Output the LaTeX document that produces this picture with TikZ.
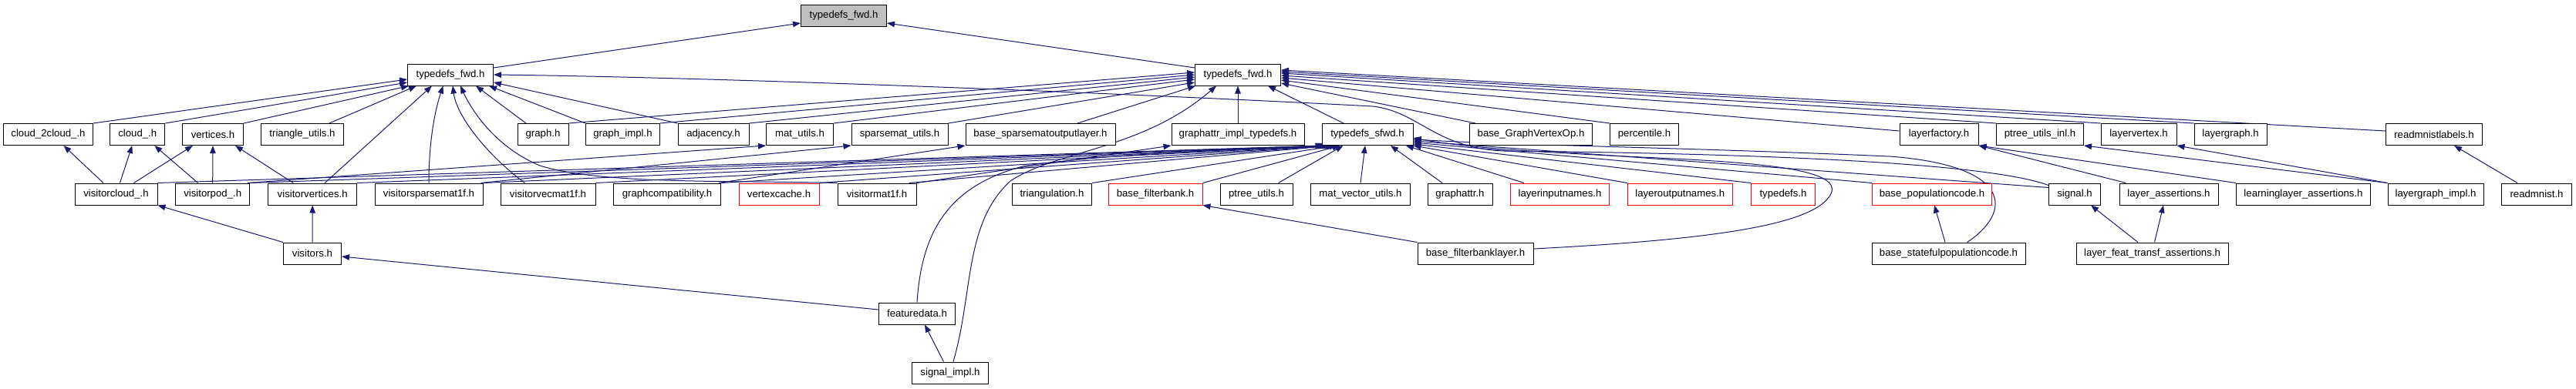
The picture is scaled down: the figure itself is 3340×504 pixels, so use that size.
\documentclass[tikz,border=0pt]{standalone}
\usepackage{fontspec}
\setmainfont{Liberation Sans}
\usetikzlibrary{arrows.meta,backgrounds}
\definecolor{navy}{RGB}{25,25,112}
\definecolor{topfill}{RGB}{191,191,191}
\definecolor{trunc}{RGB}{255,0,0}
\tikzset{
  box/.style={draw=black, line width=1pt, fill=white, minimum height=28pt, inner sep=0pt,
    font=\fontsize{13.2pt}{15pt}\selectfont},
  redbox/.style={box, draw=trunc},
  edge/.style={draw=navy, line width=1pt, -{Triangle[length=10pt,width=7.5pt]}}
}
\begin{document}
\begin{tikzpicture}[x=1pt,y=-1pt]
\useasboundingbox (0,0) rectangle (3340,504);
% row 0
\node[box,fill=topfill,minimum width=111pt] (top) at (1094,20) {typedefs\_fwd.h};
% row 1
\node[box,minimum width=111pt] (L) at (584,97) {typedefs\_fwd.h};
\node[box,minimum width=111pt] (R) at (1605,97) {typedefs\_fwd.h};
% row 2
\node[box,minimum width=116pt] (c2c) at (62.5,174.5) {cloud\_2cloud\_.h};
\node[box,minimum width=71pt] (cloud) at (178.3,174.5) {cloud\_.h};
\node[box,minimum width=79pt] (vert) at (276,174.5) {vertices.h};
\node[box,minimum width=107pt] (tri) at (392,174.5) {triangle\_utils.h};
\node[box,minimum width=66pt] (graph) at (704,174.5) {graph.h};
\node[box,minimum width=96pt] (gimpl) at (807.5,174.5) {graph\_impl.h};
\node[box,minimum width=92pt] (adj) at (925,174.5) {adjacency.h};
\node[box,minimum width=87pt] (matu) at (1037,174.5) {mat\_utils.h};
\node[box,minimum width=125pt] (spmu) at (1166.5,174.5) {sparsemat\_utils.h};
\node[box,minimum width=194pt] (bspo) at (1349,174.5) {base\_sparsematoutputlayer.h};
\node[box,minimum width=172pt] (gait) at (1605,174.5) {graphattr\_impl\_typedefs.h};
\node[box,minimum width=118pt] (S) at (1773,174.5) {typedefs\_sfwd.h};
\node[box,minimum width=159pt] (bgvo) at (1985,174.5) {base\_GraphVertexOp.h};
\node[box,minimum width=89pt] (perc) at (2132,174.5) {percentile.h};
\node[box,minimum width=102pt] (lfac) at (2514,174.5) {layerfactory.h};
\node[box,minimum width=113pt] (ptui) at (2645,174.5) {ptree\_utils\_inl.h};
\node[box,minimum width=98pt] (lvtx) at (2773,174.5) {layervertex.h};
\node[box,minimum width=94pt] (lgr) at (2892,174.5) {layergraph.h};
\node[box,minimum width=125pt] (rml) at (3156,174.5) {readmnistlabels.h};
% row 3
\node[box,minimum width=107pt] (vcl) at (150.5,252) {visitorcloud\_.h};
\node[box,minimum width=96pt] (vpod) at (275.7,252) {visitorpod\_.h};
\node[box,minimum width=115pt] (vvert) at (405.2,252) {visitorvertices.h};
\node[box,minimum width=140pt] (vspm) at (556,252) {visitorsparsemat1f.h};
\node[box,minimum width=123pt] (vvec) at (710.5,252) {visitorvecmat1f.h};
\node[box,minimum width=139pt] (gcomp) at (865,252) {graphcompatibility.h};
\node[redbox,minimum width=104pt] (vcache) at (1010,252) {vertexcache.h};
\node[box,minimum width=102pt] (vmat) at (1137,252) {visitormat1f.h};
\node[box,minimum width=103pt] (triang) at (1364,252) {triangulation.h};
\node[redbox,minimum width=122pt] (bfb) at (1498,252) {base\_filterbank.h};
\node[box,minimum width=94pt] (ptu) at (1629,252) {ptree\_utils.h};
\node[box,minimum width=129pt] (mvu) at (1764,252) {mat\_vector\_utils.h};
\node[box,minimum width=84pt] (gattr) at (1893,252) {graphattr.h};
\node[redbox,minimum width=128pt] (lin) at (2022.5,252) {layerinputnames.h};
\node[redbox,minimum width=136pt] (lout) at (2178.3,252) {layeroutputnames.h};
\node[redbox,minimum width=83pt] (tdefs) at (2312,252) {typedefs.h};
\node[redbox,minimum width=155pt] (bpop) at (2505,252) {base\_populationcode.h};
\node[box,minimum width=67pt] (sig) at (2690,252) {signal.h};
\node[box,minimum width=128pt] (lass) at (2812,252) {layer\_assertions.h};
\node[box,minimum width=174pt] (llass) at (2986.5,252) {learninglayer\_assertions.h};
\node[box,minimum width=124pt] (lgimpl) at (3158,252) {layergraph\_impl.h};
\node[box,minimum width=91pt] (rmn) at (3289,252) {readmnist.h};
% row 4
\node[box,minimum width=75pt] (visitors) at (405,329) {visitors.h};
\node[box,minimum width=150pt] (bfbl) at (1913,329) {base\_filterbanklayer.h};
\node[box,minimum width=199pt] (bspc) at (2526.5,329) {base\_statefulpopulationcode.h};
\node[box,minimum width=197pt] (lfta) at (2790.5,329) {layer\_feat\_transf\_assertions.h};
% rows 5, 6
\node[box,minimum width=99pt] (fdata) at (1189,407) {featuredata.h};
\node[box,minimum width=99pt] (simpl) at (1232,484) {signal\_impl.h};

\begin{scope}[on background layer]
\fill[white] (0,0) rectangle (3340,504);
% to top
\draw[edge] ([yshift=9pt]L.east) -- ([yshift=-10pt]top.west);
\draw[edge] ([yshift=9pt]R.west) -- ([yshift=-10pt]top.east);
% to L
\draw[edge] (c2c.north east) -- ([yshift=-6pt]L.west);
\draw[edge] (cloud.north east) -- ([yshift=-10pt]L.west);
\draw[edge] (vert.north east) -- ([xshift=2pt]L.south west);
\draw[edge] ([xshift=35pt]tri.north) -- ([xshift=12pt]L.south west);
\draw[edge] ([xshift=16pt]vvert.north) -- ([xshift=32pt]L.south west);
\draw[edge] (vspm.north) .. controls (556,180) and (565,140) .. ([xshift=46.5pt]L.south west);
\draw[edge] ([xshift=-30pt]vvec.north) .. controls (630,200) and (592,150) .. ([xshift=3pt]L.south);
\draw[edge] (vmat.north west) .. controls (950,234) and (780,240) .. (700,215) .. controls (640,190) and (610,140) .. ([xshift=13pt]L.south);
\draw[edge] ([xshift=-22pt]graph.north) -- ([xshift=33pt]L.south);
\draw[edge] (gimpl.north west) -- ([xshift=-6pt]L.south east);
\draw[edge] (adj.north west) -- ([yshift=-10pt]L.east);
\draw[edge] ([yshift=-3pt]sig.north west) .. controls (2560,205) and (2150,198) .. (1950,196) .. controls (1860,192) and (1840,145) .. (1780,138) .. controls (1400,118) and (900,100) .. (L.east);
% to R (left side)
\draw[edge] (graph.north east) -- ([yshift=3pt]R.west);
\draw[edge] (gimpl.north east) -- (R.west);
\draw[edge] (adj.north east) -- ([yshift=-3pt]R.west);
\draw[edge] (matu.north east) -- ([yshift=-6pt]R.west);
\draw[edge] (spmu.north east) -- ([yshift=-10pt]R.west);
\draw[edge] ([xshift=48pt]bspo.north) -- ([xshift=1pt]R.south west);
\draw[edge] (gait.north) -- (R.south);
\draw[edge] ([xshift=-31pt]S.north) -- ([xshift=-17pt]R.south east);
\draw[edge] ([xshift=4pt]simpl.north) .. controls (1262,380) and (1250,290) .. (1310,235) .. controls (1370,195) and (1480,195) .. ([xshift=28pt]R.south west);
% to R (right side)
\draw[edge] ([xshift=8pt]bgvo.north west) -- ([yshift=-11pt]R.east);
\draw[edge] (perc.north west) -- ([yshift=-7pt]R.east);
\draw[edge] ([yshift=4.5pt]lfac.west) -- ([yshift=-4pt]R.east);
\draw[edge] (ptui.north west) -- ([yshift=-1pt]R.east);
\draw[edge] (lvtx.north west) -- ([yshift=2pt]R.east);
\draw[edge] (lgr.north west) -- ([yshift=4pt]R.east);
\draw[edge] ([yshift=4.5pt]rml.west) -- ([yshift=6pt]R.east);
% to S (left bundle)
\draw[edge] (vcl.north east) -- ([xshift=2pt]S.south west);
\draw[edge] (vpod.north east) -- ([xshift=4pt]S.south west);
\draw[edge] (vvert.north east) -- ([xshift=6pt]S.south west);
\draw[edge] (vspm.north east) -- ([xshift=8pt]S.south west);
\draw[edge] (vvec.north east) -- ([xshift=10pt]S.south west);
\draw[edge] (gcomp.north east) -- ([xshift=12pt]S.south west);
\draw[edge] (vcache.north east) -- ([xshift=14pt]S.south west);
\draw[edge] ([xshift=-10pt]vmat.north east) -- ([xshift=16pt]S.south west);
\draw[edge] (fdata.north) .. controls (1195,300) and (1230,240) .. (1330,215) .. controls (1450,198) and (1650,192) .. ([xshift=18pt]S.south west);
\draw[edge] (triang.north east) -- ([xshift=20pt]S.south west);
\draw[edge] (bfb.north east) -- ([xshift=24pt]S.south west);
\draw[edge] ([xshift=-19pt]ptu.north east) -- ([xshift=28pt]S.south west);
% to S (below and right)
\draw[edge] (mvu.north) -- ([xshift=-3pt]S.south);
\draw[edge] ([xshift=-23pt]gattr.north) -- ([xshift=30pt]S.south);
\draw[edge] ([xshift=18pt]lin.north west) -- ([xshift=50pt]S.south);
\draw[edge] (lout.north west) -- (S.south east);
\draw[edge] (tdefs.north west) -- ([yshift=2pt]S.south east);
\draw[edge] (bpop.north west) -- ([yshift=4pt]S.south east);
\draw[edge] ([yshift=-6pt]sig.north west) -- ([yshift=6pt]S.south east);
\draw[edge] ([xshift=24pt]bspc.north) .. controls (2610,275) and (2610,215) .. (2450,203) .. controls (2200,192) and (1950,188) .. ([yshift=8pt]S.south east);
\draw[edge] ([yshift=6pt]bfbl.east) .. controls (2200,312) and (2345,295) .. (2372,255) .. controls (2395,222) and (2300,212) .. (2150,205) .. controls (2000,198) and (1900,192) .. ([yshift=10pt]S.south east);
% left cluster
\draw[edge] ([xshift=-16.5pt]vcl.north) -- ([xshift=20pt]c2c.south);
\draw[edge] ([xshift=5pt]vcl.north) -- ([xshift=-7pt]cloud.south);
\draw[edge] ([xshift=23pt]vcl.north) -- ([xshift=-26pt]vert.south);
\draw[edge] ([xshift=-19pt]vpod.north) -- ([xshift=22pt]cloud.south);
\draw[edge] (vpod.north) -- (vert.south);
\draw[edge] ([xshift=-25pt]vvert.north) -- ([xshift=29pt]vert.south);
\draw[edge] (visitors.north west) -- (vcl.south east);
\draw[edge] (visitors.north) -- (vvert.south);
\draw[edge] ([yshift=5pt]fdata.west) -- ([yshift=-4pt]visitors.east);
\draw[edge] ([xshift=-8.5pt]simpl.north) -- ([xshift=10pt]fdata.south);
% middle
\draw[edge] ([xshift=-3pt]vpod.north east) -- (matu.south west);
\draw[edge] ([xshift=-3pt]vspm.north east) -- (spmu.south west);
\draw[edge] ([xshift=-3pt]gcomp.north east) -- (bspo.south west);
\draw[edge] (vmat.north east) -- (gait.south west);
\draw[edge] (bfbl.north west) -- (bfb.south east);
% right cluster
\draw[edge] ([xshift=-4.5pt]bspc.north) -- ([xshift=3pt]bpop.south);
\draw[edge] ([xshift=9pt]lass.north west) -- (lfac.south east);
\draw[edge] (llass.north west) -- (lfac.south east);
\draw[edge] (lgimpl.north west) -- (ptui.south east);
\draw[edge] (lgimpl.north west) -- (lvtx.south east);
\draw[edge] ([xshift=-18.5pt]lfta.north) -- ([xshift=21pt]sig.south);
\draw[edge] ([xshift=3pt]lfta.north) -- ([xshift=-7pt]lass.south);
\draw[edge] ([xshift=-25pt]rmn.north) -- ([xshift=26pt]rml.south);
\end{scope}
\end{tikzpicture}
\end{document}
